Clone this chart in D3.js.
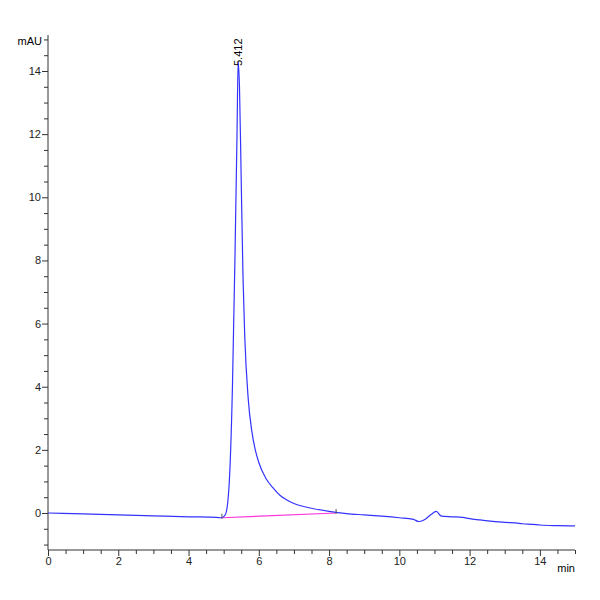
<!DOCTYPE html><html><head><script src="https://cdn.jsdelivr.net/npm/d3@7"></script>
<style>body{margin:0;background:#fff}text{font-family:"Liberation Sans",Arial,sans-serif}</style></head><body>
<svg id="c" width="600" height="600"></svg>
<script>
const times=[0,1,2,3,4,4.8,4.95,5.05,5.15,5.25,5.32,5.38,5.412,5.45,5.5,5.55,5.6,5.7,5.8,5.9,6.0,6.2,6.4,6.6,6.8,7.0,7.5,8.0,8.5,9,9.5,10,10.4,10.55,10.7,10.9,11.05,11.2,11.5,11.8,12,12.3,12.6,13,13.3,13.5,13.8,14,14.5,15];
const signal=[0,-0.03,-0.06,-0.09,-0.12,-0.14,-0.15,-0.05,0.8,4,8,12,14.3,13.5,10.5,7.5,5.6,3.6,2.6,2.0,1.6,1.1,0.8,0.56,0.41,0.3,0.15,0.05,-0.02,-0.06,-0.1,-0.15,-0.2,-0.27,-0.22,-0.05,0.05,-0.1,-0.12,-0.14,-0.18,-0.22,-0.26,-0.3,-0.31,-0.34,-0.36,-0.38,-0.4,-0.41];
const baseT=[4.95,8.2], baseV=[-0.15,0];
const peakLabel={t:5.412,text:"5.412"};
const xTicks=[0,2,4,6,8,10,12,14], yTicks=[0,2,4,6,8,10,12,14];
const svg=d3.select("#c");
const x=d3.scaleLinear().domain([0,15]).range([48,575]);
const y=d3.scaleLinear().domain([0,14]).range([513,71]);
const xa=svg.append("g").attr("transform","translate(0,550)")
 .call(d3.axisBottom(x).tickValues(d3.range(0,15.01,0.5)).tickSize(4).tickFormat(d=>xTicks.includes(d)?d:""));
xa.selectAll(".tick line").attr("y2",d=>xTicks.includes(d)?6:4);
xa.select(".domain").attr("d","M48,0H575");
const ya=svg.append("g").attr("transform","translate(48,0)")
 .call(d3.axisLeft(y).tickValues(d3.range(-1,15.01,0.5)).tickSize(4).tickFormat(d=>yTicks.includes(d)?d:""));
ya.selectAll(".tick line").attr("x2",d=>yTicks.includes(d)?-6:-4);
ya.select(".domain").attr("d","M0,550V35");
svg.selectAll(".tick text").attr("font-size",11).attr("fill","#222");
svg.selectAll(".domain,.tick line").attr("stroke","#333");
svg.append("text").attr("x",42).attr("y",45).attr("text-anchor","end").attr("font-size",11).text("mAU");
svg.append("text").attr("x",575).attr("y",572).attr("text-anchor","end").attr("font-size",11).text("min");
svg.append("path").datum(baseT.map((t,i)=>[t,baseV[i]])).attr("fill","none").attr("stroke","#ff33dd").attr("stroke-width",1.2)
 .attr("d",d3.line().x(d=>x(d[0])).y(d=>y(d[1])));
svg.append("path").datum(times.map((t,i)=>[t,signal[i]])).attr("fill","none").attr("stroke","#3333ff").attr("stroke-width",1.2)
 .attr("d",d3.line().curve(d3.curveMonotoneX).x(d=>x(d[0])).y(d=>y(d[1])));
baseT.forEach((t,i)=>svg.append("line").attr("x1",x(t)).attr("x2",x(t)).attr("y1",y(baseV[i])-4).attr("y2",y(baseV[i])+1).attr("stroke","#555"));
svg.append("text").attr("transform",`translate(${x(peakLabel.t)+4},66) rotate(-90)`).attr("font-size",11).text(peakLabel.text);
</script></body></html>
